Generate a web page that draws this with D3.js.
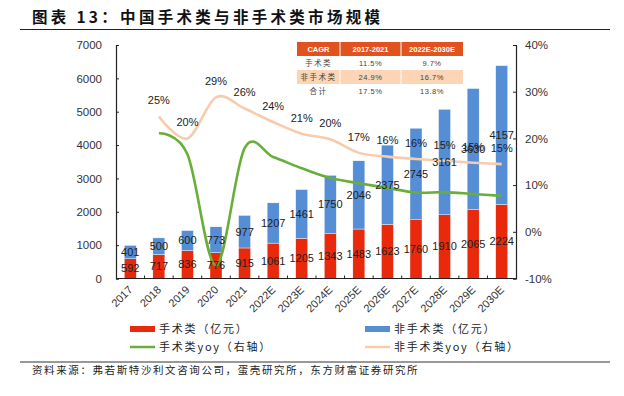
<!DOCTYPE html>
<html lang="zh-CN">
<head>
<meta charset="utf-8">
<title>中国手术类与非手术类市场规模</title>
<style>
html,body{margin:0;padding:0;background:#fff;}
svg{display:block;font-family:"Liberation Sans",Arial,"Noto Sans CJK SC",sans-serif;}
.cn{font-family:"Noto Sans CJK SC",sans-serif;}
</style>
</head>
<body>
<div id="chart"></div>
<script src="https://cdn.jsdelivr.net/npm/d3@7"></script>
<script>
/* ---------- 数据 ---------- */
const years    = ['2017','2018','2019','2020','2021','2022E','2023E','2024E','2025E','2026E','2027E','2028E','2029E','2030E'];
const surgical = [592,717,836,776,915,1061,1205,1343,1483,1623,1760,1910,2065,2224];
const nonSurg  = [401,500,600,773,977,1207,1461,1750,2046,2375,2745,3161,3630,4157];
// yoy（%），2017 无数据
const surgYoy  = [null,21.1,16.6,-7.2,17.9,16.0,13.6,11.5,10.4,9.4,8.4,8.5,8.1,7.7];
const nonYoy   = [null,24.7,20.0,28.8,26.4,23.5,21.0,19.8,16.9,16.1,15.6,15.2,14.8,14.5];
const leftTicks  = [0,1000,2000,3000,4000,5000,6000,7000];
const rightTicks = [-10,0,10,20,30,40];
const cagrHead = ['CAGR','2017-2021','2022E-2030E'];
const cagrRows = [['手术类','11.5%','9.7%'],['非手术类','24.9%','16.7%'],['合计','17.5%','13.8%']];

const C = {red:'#e8290b', blue:'#558ed5', green:'#6aae3a', peach:'#f8cbad', hdr:'#e0531f', row:'#fbd5b5', txt:'#222'};

/* ---------- 画布 ---------- */
const W = 624, H = 396;
const svg = d3.select('#chart').append('svg').attr('width', W).attr('height', H);

// 标题
svg.append('text').attr('class','cn')
  .attr('x', 32).attr('y', 23)
  .attr('font-size', 15.5).attr('font-weight', 'bold')
  .attr('letter-spacing', 3.3).attr('fill', '#111')
  .text('图表 13：中国手术类与非手术类市场规模');
svg.append('line').attr('x1', 20).attr('x2', 610).attr('y1', 29.5).attr('y2', 29.5)
  .attr('stroke', '#222').attr('stroke-width', 1.2);

/* ---------- 比例尺 ---------- */
const x = d3.scaleBand().domain(years).range([116, 516]).paddingInner(0.58).paddingOuter(0.29);
const yL = d3.scaleLinear().domain([0, 7000]).range([278.5, 45]);
const yR = d3.scaleLinear().domain([-10, 40]).range([278.5, 45]);
const cx = d => x(d) + x.bandwidth() / 2;

/* ---------- 柱状堆叠 ---------- */
const rows = years.map((y, i) => ({year: y, s: surgical[i], n: nonSurg[i]}));
const stack = d3.stack().keys(['s', 'n'])(rows);
const fills = {s: C.red, n: C.blue};

stack.forEach(layer => {
  const g = svg.append('g');
  g.selectAll('rect').data(layer).join('rect')
    .attr('x', d => x(d.data.year))
    .attr('width', x.bandwidth())
    .attr('y', d => yL(d[1]))
    .attr('height', d => yL(d[0]) - yL(d[1]))
    .attr('fill', fills[layer.key])
    .attr('stroke', '#fff').attr('stroke-width', 0.4);
});

/* ---------- 坐标轴 ---------- */
const axisL = svg.append('g').attr('transform', 'translate(116,0)')
  .call(d3.axisLeft(yL).tickValues(leftTicks).tickSize(-3).tickPadding(14).tickSizeOuter(-3)
        .tickFormat(d3.format('d')));
const axisR = svg.append('g').attr('transform', 'translate(516,0)')
  .call(d3.axisRight(yR).tickValues(rightTicks).tickSize(-3).tickPadding(9).tickSizeOuter(-3)
        .tickFormat(d => d + '%'));
[axisL, axisR].forEach(a => {
  a.select('.domain').attr('stroke', '#222').attr('stroke-width', 1.2);
  a.selectAll('.tick line').attr('stroke', '#222');
  a.selectAll('.tick text').attr('font-size', 11.5).attr('fill', '#333');
});

// 横轴
const axisB = svg.append('g').attr('transform', 'translate(0,278.5)');
axisB.append('line').attr('x1', 116).attr('x2', 516).attr('stroke', '#222').attr('stroke-width', 1.2);
axisB.selectAll('line.tk').data(years.slice(1)).join('line').attr('class', 'tk')
  .attr('x1', d => x(d) - x.step() * 0.29).attr('x2', d => x(d) - x.step() * 0.29)
  .attr('y1', 0).attr('y2', -3).attr('stroke', '#222');
axisB.selectAll('text').data(years).join('text')
  .attr('transform', d => `translate(${cx(d) + 3},${12}) rotate(-45)`)
  .attr('text-anchor', 'end').attr('font-size', 11).attr('fill', '#333')
  .text(d => d);

/* ---------- 折线 ---------- */
const line = d3.line()
  .defined(d => d.v != null)
  .x(d => cx(d.year)).y(d => yR(d.v))
  .curve(d3.curveCatmullRom.alpha(0));
const nonPts  = years.map((y, i) => ({year: y, v: nonYoy[i]}));
const surgPts = years.map((y, i) => ({year: y, v: surgYoy[i]}));

svg.append('path').datum(nonPts).attr('d', line)
  .attr('fill', 'none').attr('stroke', C.peach).attr('stroke-width', 2.6);
svg.append('path').datum(surgPts).attr('d', line)
  .attr('fill', 'none').attr('stroke', C.green).attr('stroke-width', 2.6);

/* ---------- 数据标签 ---------- */
const lbl = svg.append('g').attr('font-size', 11).attr('fill', C.txt).attr('text-anchor', 'middle');
stack.forEach(layer => {
  lbl.append('g').selectAll('text').data(layer).join('text')
    .attr('x', d => cx(d.data.year))
    .attr('y', d => yL((d[0] + d[1]) / 2))
    .attr('dy', '0.35em')
    .text(d => d[1] - d[0]);
});
lbl.append('g').selectAll('text').data(nonPts.filter(d => d.v != null)).join('text')
  .attr('x', d => cx(d.year))
  .attr('y', d => yR(d.v) - 16)
  .attr('dy', '0.35em')
  .text(d => Math.round(d.v) + '%');

/* ---------- CAGR 表 ---------- */
const tx = [297, 340, 401, 463], ty = 42, rh = 14;
const tbl = svg.append('g').attr('font-size', 7.5);
tbl.append('rect').attr('x', tx[0]).attr('y', ty).attr('width', tx[3] - tx[0]).attr('height', rh).attr('fill', C.hdr);
tbl.append('rect').attr('x', tx[0]).attr('y', ty + rh * 2).attr('width', tx[3] - tx[0]).attr('height', rh).attr('fill', C.row);
[1, 2].forEach(i => tbl.append('line').attr('x1', tx[i]).attr('x2', tx[i])
  .attr('y1', ty).attr('y2', ty + rh * 4).attr('stroke', '#fff').attr('stroke-width', 1));
cagrHead.forEach((t, j) => tbl.append('text')
  .attr('x', (tx[j] + tx[j + 1]) / 2).attr('y', ty + rh / 2).attr('dy', '0.35em')
  .attr('text-anchor', 'middle').attr('fill', '#fff').attr('font-weight', 'bold').text(t));
cagrRows.forEach((r, i) => r.forEach((t, j) => tbl.append('text')
  .attr('class', j === 0 ? 'cn' : null)
  .attr('x', (tx[j] + tx[j + 1]) / 2).attr('y', ty + rh * (i + 1) + rh / 2).attr('dy', '0.35em')
  .attr('text-anchor', 'middle').attr('fill', '#444')
  .attr('letter-spacing', j === 0 ? 1.5 : 0.5).text(t)));

/* ---------- 图例 ---------- */
const legend = [
  {t: '手术类（亿元）', c: C.red, type: 'rect', x: 130, y: 329},
  {t: '非手术类（亿元）', c: C.blue, type: 'rect', x: 365, y: 329},
  {t: '手术类yoy（右轴）', c: C.green, type: 'line', x: 130, y: 347},
  {t: '非手术类yoy（右轴）', c: C.peach, type: 'line', x: 365, y: 347}
];
const lg = svg.append('g');
legend.forEach(d => {
  if (d.type === 'rect') lg.append('rect').attr('x', d.x).attr('y', d.y - 3).attr('width', 25).attr('height', 6).attr('fill', d.c);
  else lg.append('line').attr('x1', d.x).attr('x2', d.x + 25).attr('y1', d.y).attr('y2', d.y).attr('stroke', d.c).attr('stroke-width', 2.5);
  lg.append('text').attr('class', 'cn').attr('x', d.x + 29).attr('y', d.y).attr('dy', '0.35em')
    .attr('font-size', 11).attr('letter-spacing', 1.8).attr('fill', '#222').text(d.t);
});

/* ---------- 资料来源 ---------- */
svg.append('line').attr('x1', 20).attr('x2', 610).attr('y1', 362).attr('y2', 362)
  .attr('stroke', '#333').attr('stroke-width', 1);
svg.append('text').attr('class', 'cn').attr('x', 32).attr('y', 374)
  .attr('font-size', 10.5).attr('letter-spacing', 1.6).attr('fill', '#222')
  .text('资料来源：弗若斯特沙利文咨询公司，蛋壳研究所，东方财富证券研究所');
</script>
</body>
</html>
